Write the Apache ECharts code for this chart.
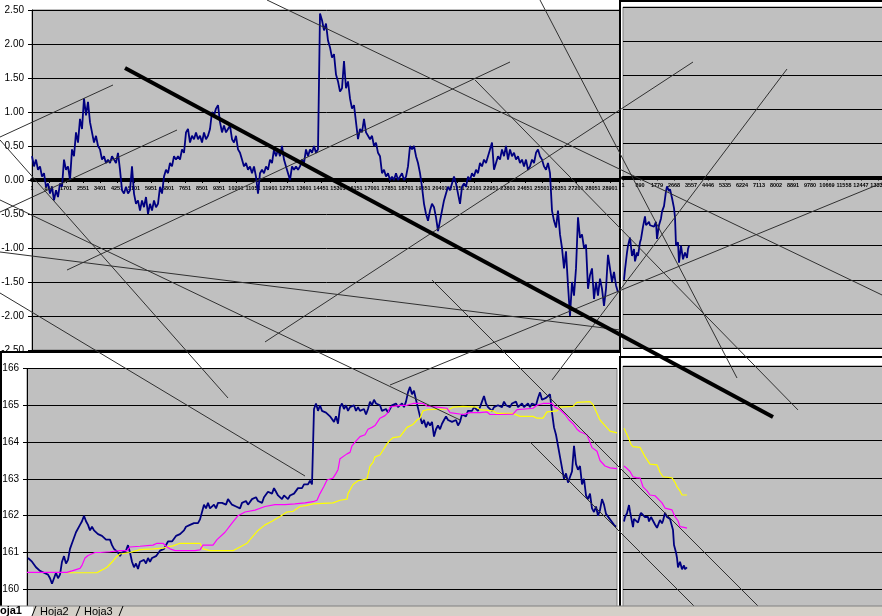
<!DOCTYPE html>
<html><head><meta charset="utf-8">
<script src="https://cdn.jsdelivr.net/npm/echarts@6.0.0/dist/echarts.min.js"></script>
<style>
html,body{margin:0;padding:0;width:882px;height:616px;overflow:hidden;background:#fff}
.p{position:absolute;background:#fff;overflow:hidden}
#pa{left:0;top:0;width:620px;height:352px}
#pb{left:619px;top:0;width:261px;height:356px;border-left:2px solid #000;border-top:2px solid #000}
#pc{left:0;top:351px;width:618px;height:263px;border-left:2px solid #000;border-top:2px solid #000}
#pd{left:619px;top:356px;width:261px;height:258px;border-left:2px solid #000;border-top:2px solid #000}
#ov{left:0;top:0;width:882px;height:616px;background:transparent}
</style></head><body>
<div id="pa" class="p"></div>
<div id="pb" class="p"></div>
<div id="pc" class="p"></div>
<div id="pd" class="p"></div>
<div id="ov" class="p" style="background:transparent"></div>
<script>
// ---------- DATA ----------
// Panel A: deviation series, one value every 2 sample-units (1 unit = 50 records)
const panelA_values = [
0.35,0.2,0.3,0.15,0.2,0.05,0.1,-0.1,-0.05,-0.2,
-0.1,-0.3,-0.15,-0.25,-0.05,-0.1,0.3,0.15,0.2,0.0,
0.45,0.35,0.7,0.55,0.9,0.75,1.2,0.95,1.15,0.85,
0.7,0.55,0.65,0.5,0.45,0.3,0.35,0.25,0.3,0.25,
0.35,0.3,0.25,0.4,0.15,-0.15,-0.2,-0.1,-0.2,-0.15,
0.2,-0.2,-0.35,-0.3,-0.45,-0.3,-0.4,-0.25,-0.5,-0.35,
-0.45,-0.3,-0.4,-0.35,-0.1,-0.2,0.05,0.15,0.1,0.25,
0.2,0.35,0.3,0.35,0.3,0.45,0.4,0.7,0.75,0.55,
0.65,0.6,0.7,0.6,0.65,0.55,0.7,0.6,0.65,0.75,
1.0,0.95,1.05,1.1,0.85,0.7,0.8,0.7,0.75,0.8,
0.6,0.55,0.65,0.45,0.4,0.3,0.2,0.25,0.15,0.2,
0.1,0.2,0.05,-0.2,0.1,0.15,0.1,0.2,0.15,0.3,
0.25,0.45,0.35,0.45,0.35,0.5,0.3,0.2,0.1,0.0,
0.2,0.15,0.2,0.15,0.2,0.3,0.25,0.45,0.35,0.45,
0.4,0.5,0.4,0.45,2.45,2.35,2.2,2.3,2.05,1.95,
1.8,1.85,1.55,1.45,1.3,1.35,1.75,1.35,1.45,1.2,
1.05,1.1,0.85,0.6,0.75,0.7,0.9,0.7,0.65,0.6,
0.65,0.5,0.55,0.4,0.35,0.1,0.15,0.05,0.1,0.0,
0.05,0.0,0.1,0.0,0.05,0.1,0.0,0.05,0.2,0.5,
0.45,0.5,0.35,0.25,0.1,-0.1,-0.35,-0.5,-0.6,-0.45,
-0.35,-0.4,-0.55,-0.75,-0.6,-0.45,-0.3,-0.2,-0.1,-0.15,
-0.05,0.05,-0.05,-0.2,-0.35,-0.1,-0.05,-0.1,0.05,0.0,
0.1,0.05,0.15,0.1,0.25,0.2,0.3,0.25,0.35,0.45,
0.55,0.15,0.25,0.35,0.3,0.45,0.35,0.5,0.3,0.45,
0.35,0.4,0.3,0.35,0.25,0.3,0.2,0.3,0.15,0.2,
0.3,0.25,0.4,0.45,0.35,0.3,0.2,0.15,0.25,0.1,
-0.45,-0.6,-0.7,-0.45,-0.8,-1.0,-1.3,-1.05,-1.55,-2.0,
-1.5,-1.7,-1.3,-0.55,-0.85,-0.8,-1.0,-0.95,-1.6,-1.4,
-1.3,-1.75,-1.5,-1.7,-1.45,-1.6,-1.85,-1.6,-1.1,-1.3,
-1.5,-1.35,-1.55,-1.65
];
const panelA_step = 2;

// Panel B: continuation [sample, value]
const panelB_points = [[1,-1.5],[2,-1.35],[4,-1.1],[5,-1.0],[7,-0.88],[9,-1.15],[11,-1.05],[12,-1.23],[14,-1.1],[15,-1.15],[17,-0.95],[18,-0.9],[20,-0.72],[22,-0.57],[23,-0.7],[24,-0.72],[26,-0.65],[27,-0.7],[29,-0.68],[31,-0.72],[33,-0.65],[34,-0.9],[36,-0.7],[38,-0.6],[39,-0.5],[41,-0.42],[43,-0.2],[44,-0.13],[46,-0.2],[47,-0.17],[49,-0.3],[51,-0.45],[52,-0.58],[53,-1.0],[55,-0.95],[56,-1.25],[58,-1.0],[60,-1.2],[62,-1.1],[64,-1.18],[65,-1.05],[66,-1.0]];

// Panel C: price series, one value every 2 sample-units starting at 1
const panelC_price = [
160.85,160.8,160.75,160.7,160.6,160.55,160.5,160.5,160.45,160.5,
160.4,160.3,160.15,160.3,160.45,160.3,160.4,160.75,160.9,160.7,
160.8,161.1,161.25,161.4,161.55,161.5,161.75,161.85,162.0,161.85,
161.75,161.6,161.7,161.6,161.65,161.5,161.55,161.45,161.4,161.35,
161.3,161.35,161.2,161.1,161.05,161.0,160.9,161.0,160.95,161.05,
161.2,161.0,160.75,160.6,160.7,160.55,160.75,160.7,160.8,160.7,
160.85,160.75,160.85,160.8,160.9,160.85,161.05,161.0,161.1,161.2,
161.3,161.25,161.3,161.35,161.45,161.4,161.5,161.45,161.6,161.7,
161.65,161.75,161.7,161.8,161.85,161.8,161.9,161.95,162.3,162.2,
162.35,162.2,162.25,162.3,162.2,162.35,162.3,162.35,162.4,162.3,
162.45,162.4,162.3,162.35,162.25,162.3,162.2,162.35,162.3,162.4,
162.3,162.35,162.45,162.4,162.5,162.4,162.45,162.35,162.5,162.55,
162.65,162.7,162.6,162.75,162.65,162.55,162.6,162.45,162.55,162.5,
162.45,162.55,162.5,162.6,162.55,162.75,162.8,162.75,162.85,162.9,
162.85,162.95,162.85,164.9,165.05,164.85,165.0,164.85,164.9,164.8,
164.85,164.7,164.65,164.55,164.7,164.5,164.95,165.05,164.9,165.0,
164.85,164.95,164.9,165.0,164.85,164.95,164.85,164.8,164.9,164.75,
164.9,165.1,165.0,165.15,165.05,165.1,165.0,164.85,164.8,164.9,
164.8,164.85,165.0,164.95,165.05,164.95,165.0,165.05,164.95,165.1,
165.35,165.5,165.3,165.4,165.15,165.2,164.7,164.5,164.6,164.4,
164.55,164.45,164.55,164.15,164.35,164.45,164.35,164.5,164.6,164.7,
164.6,164.65,164.55,164.5,164.6,164.45,164.55,164.75,164.8,164.7,
164.85,164.9,164.85,164.95,164.9,164.85,164.95,165.1,165.25,165.05,
164.95,164.9,164.85,164.95,164.9,165.0,165.05,164.95,165.1,165.0,
165.05,164.95,165.05,165.0,165.1,164.95,165.0,165.05,164.95,165.0,
165.05,164.95,165.05,165.1,165.0,165.2,165.35,165.15,165.1,165.2,
165.15,165.3,164.8,164.4,164.2,163.9,163.6,163.3,163.0,163.15,
162.9,163.05,163.2,163.9,163.4,163.25,163.35,162.85,163.0,162.55,
162.45,162.6,162.2,162.1,162.25,162.0,162.15,162.45,162.3,162.05,
162.0,161.9,161.85,161.75,161.7
];
const panelC_step = 2;
const panelC_maFast = [[0,160.46],[13,160.46],[28,160.46],[40,160.46],[45,160.5],[53,160.57],[55,160.65],[58,160.85],[61,160.92],[63,160.96],[68,161.0],[73,161.0],[83,161.02],[93,161.05],[100,161.05],[103,161.15],[113,161.17],[126,161.2],[130,161.25],[136,161.25],[140,161.15],[143,161.1],[148,161.05],[158,161.05],[168,161.05],[173,161.07],[176,161.2],[186,161.2],[190,161.35],[198,161.55],[205,161.8],[211,162.0],[218,162.1],[228,162.15],[238,162.25],[248,162.3],[258,162.3],[268,162.32],[278,162.35],[286,162.38],[290,162.42],[293,162.6],[297,162.8],[300,162.97],[306,163.02],[309,163.15],[311,163.25],[313,163.55],[315,163.6],[320,163.68],[323,163.72],[325,163.9],[328,164.0],[330,164.05],[333,164.15],[338,164.2],[341,164.35],[345,164.4],[348,164.45],[353,164.65],[358,164.72],[361,164.8],[363,164.95],[368,164.98],[373,165.0],[380,165.0],[386,165.05],[396,165.05],[400,164.98],[410,164.95],[420,164.92],[423,164.8],[436,164.75],[443,164.8],[453,164.8],[460,164.82],[463,164.75],[473,164.75],[486,164.76],[490,164.88],[498,164.9],[506,164.92],[510,165.0],[516,165.05],[525,165.05],[528,164.95],[533,164.88],[538,164.75],[542,164.6],[546,164.5],[550,164.35],[553,164.28],[560,164.2],[565,163.85],[570,163.75],[573,163.5],[578,163.35],[583,163.3],[590,163.28]];
const panelC_maSlow = [[38,160.45],[70,160.45],[73,160.5],[77,160.55],[80,160.6],[86,160.77],[90,160.9],[93,160.96],[103,161.0],[113,161.08],[126,161.1],[136,161.12],[140,161.15],[146,161.18],[153,161.25],[173,161.25],[176,161.1],[183,161.05],[206,161.05],[213,161.15],[220,161.25],[223,161.35],[231,161.6],[238,161.75],[245,161.85],[253,161.98],[260,162.1],[266,162.12],[273,162.25],[280,162.28],[286,162.32],[306,162.35],[313,162.42],[320,162.45],[321,162.6],[326,162.85],[331,162.95],[340,163.0],[343,163.35],[346,163.45],[348,163.6],[353,163.65],[360,163.95],[363,164.05],[366,164.12],[373,164.15],[380,164.4],[386,164.48],[390,164.6],[393,164.65],[396,164.85],[400,164.88],[423,164.9],[426,164.95],[436,164.97],[450,164.95],[453,164.88],[466,164.85],[470,164.78],[486,164.78],[493,164.7],[506,164.7],[510,164.65],[516,164.65],[520,164.82],[530,164.85],[533,164.95],[546,164.97],[550,165.08],[563,165.1],[566,165.02],[573,164.6],[578,164.45],[583,164.3],[590,164.25]];

// Panel D: continuation [sample, value]
const panelD_price = [[1,161.83],[2,161.95],[4,162.05],[6,162.27],[7,162.1],[9,162.14],[10,161.68],[11,161.9],[13,161.95],[15,161.8],[17,162.0],[18,162.06],[20,162.1],[22,161.95],[23,161.9],[25,161.95],[26,161.83],[28,161.95],[30,161.85],[32,161.75],[34,161.66],[36,161.8],[37,161.87],[39,161.78],[40,161.85],[42,162.06],[44,161.95],[45,162.0],[47,161.9],[48,161.85],[50,161.6],[51,161.2],[53,161.0],[54,160.85],[55,160.6],[57,160.75],[59,160.55],[61,160.65],[62,160.55],[64,160.6]];
const panelD_maFast = [[1,163.32],[4,163.25],[7,163.17],[10,163.03],[14,163.0],[17,163.0],[20,162.76],[24,162.65],[27,162.54],[32,162.52],[34,162.5],[39,162.33],[42,162.19],[49,162.14],[52,161.96],[55,161.85],[57,161.69],[61,161.67],[64,161.65]];
const panelD_maSlow = [[1,164.33],[5,164.1],[8,163.9],[10,163.84],[17,163.82],[22,163.57],[25,163.45],[27,163.37],[34,163.35],[37,163.15],[40,163.03],[49,163.0],[52,162.88],[54,162.76],[57,162.65],[59,162.54],[64,162.54]];

// Hand-drawn trend lines, in panel A units [sample, deviation]
const trendLines = [
 [[-32,0.632],[81,1.397]],
 [[-32,0.588],[196,-3.206]],
 [[-32,-0.471],[145,0.735]],
 [[35,-1.324],[478,1.735]],
 [[235,2.647],[850,-1.691]],
 [[443,1.471],[766,-3.382]],
 [[508,2.647],[705,-2.912]],
 [[358,-3.015],[850,-0.044]],
 [[520,-2.941],[755,1.632]],
 [[233,-2.382],[661,1.735]],
 [[-32,-0.294],[428,-3.529]],
 [[400,-1.471],[736,-6.412]],
 [[-32,-1.662],[273,-4.353]],
 [[498,-3.853],[672,-6.412]],
 [[-32,-1.059],[588,-2.206]]
];
const mainTrend = [[93,1.647],[741,-3.485]];

const recordsPerUnitA = 50;       // panel A label = unit*50+1
const labelStepB = 889;           // panel B labels step
const sheetTabs = ['Hoja1','Hoja2','Hoja3'];

// ---------- STYLE ----------
const NAVY='#000080', MAG='#ff00ff', YEL='#ffff00', PLOT='#c0c0c0';
const FONT='"Liberation Sans",Arial,sans-serif';

function lineSeries(data,color,width){
  return {type:'line',data:data,showSymbol:false,symbol:'none',animation:false,
    lineStyle:{color:color,width:width},clip:true};
}
function grid(o){
  return Object.assign({show:true,backgroundColor:PLOT,borderColor:'#808080',borderWidth:1,
    containLabel:false,outerBoundsMode:'none'},o);
}
function zeroXAxis(max,offset,fmt){
  return {type:'value',min:0,max:max,interval:17,position:'bottom',offset:offset,
    axisLine:{onZero:false,lineStyle:{color:'#000',width:4}},
    axisTick:{show:true,length:3,lineStyle:{color:'#000'}},
    axisLabel:{fontSize:5.5,fontWeight:'bold',color:'#000',margin:5,fontFamily:FONT,
      hideOverlap:false,showMinLabel:true,showMaxLabel:false,formatter:fmt},
    splitLine:{show:false}};
}

// Panel A
const chA = echarts.init(document.getElementById('pa'),null,{renderer:'canvas'});
chA.setOption({
  animation:false,
  grid:grid({left:32,top:10,width:595,height:340}),
  xAxis:zeroXAxis(595,-170,v=>String(Math.round(v*recordsPerUnitA)+1)),
  yAxis:{type:'value',min:-2.5,max:2.5,interval:0.5,
    axisLine:{show:true,onZero:false,lineStyle:{color:'#000'}},
    axisTick:{show:true,length:4,lineStyle:{color:'#000'}},
    axisLabel:{fontSize:10,color:'#000',margin:8,fontFamily:FONT,formatter:v=>v.toFixed(2)},
    splitLine:{show:true,lineStyle:{color:'#000',width:1}}},
  series:[lineSeries(panelA_values.map((v,i)=>[i*panelA_step,v]),NAVY,1.8)]
});

// Panel B
const chB = echarts.init(document.getElementById('pb'));
chB.setOption({
  animation:false,
  grid:grid({left:2,top:5,width:272,height:341}),
  xAxis:zeroXAxis(272,-170.5,v=>String(Math.round(v/17*labelStepB)+1)),
  yAxis:{type:'value',min:-2.5,max:2.5,interval:0.5,
    axisLine:{show:false},axisTick:{show:false},axisLabel:{show:false},
    splitLine:{show:true,lineStyle:{color:'#000',width:1}}},
  series:[lineSeries(panelB_points,NAVY,1.8)]
});

// Panel C
const chC = echarts.init(document.getElementById('pc'));
chC.setOption({
  animation:false,
  grid:grid({left:25,top:15.5,width:590,height:257.6}),
  xAxis:{type:'value',min:0,max:590,show:false},
  yAxis:{type:'value',min:159,max:166,interval:1,
    axisLine:{show:true,lineStyle:{color:'#000'}},
    axisTick:{show:true,length:4,lineStyle:{color:'#000'}},
    axisLabel:{fontSize:10,color:'#000',margin:8,fontFamily:FONT},
    splitLine:{show:true,lineStyle:{color:'#000',width:1}}},
  series:[
    lineSeries(panelC_price.map((v,i)=>[1+i*panelC_step,v]),NAVY,1.8),
    lineSeries(panelC_maSlow,YEL,1.2),
    lineSeries(panelC_maFast,MAG,1.2)
  ]
});

// Panel D
const chD = echarts.init(document.getElementById('pd'));
chD.setOption({
  animation:false,
  grid:grid({left:2,top:8,width:272,height:261}),
  xAxis:{type:'value',min:0,max:272,show:false},
  yAxis:{type:'value',min:159,max:166,interval:1,
    axisLine:{show:false},axisTick:{show:false},axisLabel:{show:false},
    splitLine:{show:true,lineStyle:{color:'#000',width:1}}},
  series:[
    lineSeries(panelD_price,NAVY,1.8),
    lineSeries(panelD_maSlow,YEL,1.2),
    lineSeries(panelD_maFast,MAG,1.2)
  ]
});

// Overlay: drawn trend lines + sheet tabs
const chO = echarts.init(document.getElementById('ov'));
chO.setOption({
  animation:false,
  grid:{left:0,top:0,right:0,bottom:0,containLabel:false,outerBoundsMode:'none'},
  xAxis:{type:'value',min:-32,max:850,show:false},
  yAxis:{type:'value',min:-6.412,max:2.647,show:false},
  series:[
    {type:'lines',coordinateSystem:'cartesian2d',z:5,
      lineStyle:{color:'#303030',width:1,opacity:1},
      data:trendLines.map(c=>({coords:c}))},
    {type:'lines',coordinateSystem:'cartesian2d',z:6,
      lineStyle:{color:'#000',width:4,opacity:1},
      data:[{coords:mainTrend}]}
  ],
  graphic:[
    {type:'rect',z:100,shape:{x:0,y:606,width:882,height:10},style:{fill:'#d4d0c8'}},
    {type:'rect',z:101,shape:{x:0,y:606,width:33,height:10},style:{fill:'#ffffff'}},
    {type:'line',z:101,shape:{x1:0,y1:606,x2:882,y2:606},style:{stroke:'#808080',lineWidth:1}},
    {type:'text',z:102,style:{x:-8,y:605,text:sheetTabs[0],font:'bold 11px "Liberation Sans",Arial',fill:'#000',verticalAlign:'top'}},
    {type:'line',z:102,shape:{x1:32,y1:616,x2:36,y2:606},style:{stroke:'#000',lineWidth:1}},
    {type:'text',z:102,style:{x:40,y:606,text:sheetTabs[1],font:'11px "Liberation Sans",Arial',fill:'#000',verticalAlign:'top'}},
    {type:'line',z:102,shape:{x1:76,y1:616,x2:80,y2:606},style:{stroke:'#000',lineWidth:1}},
    {type:'text',z:102,style:{x:84,y:606,text:sheetTabs[2],font:'11px "Liberation Sans",Arial',fill:'#000',verticalAlign:'top'}},
    {type:'line',z:102,shape:{x1:119,y1:616,x2:123,y2:606},style:{stroke:'#000',lineWidth:1}}
  ]
});
</script>
</body></html>
